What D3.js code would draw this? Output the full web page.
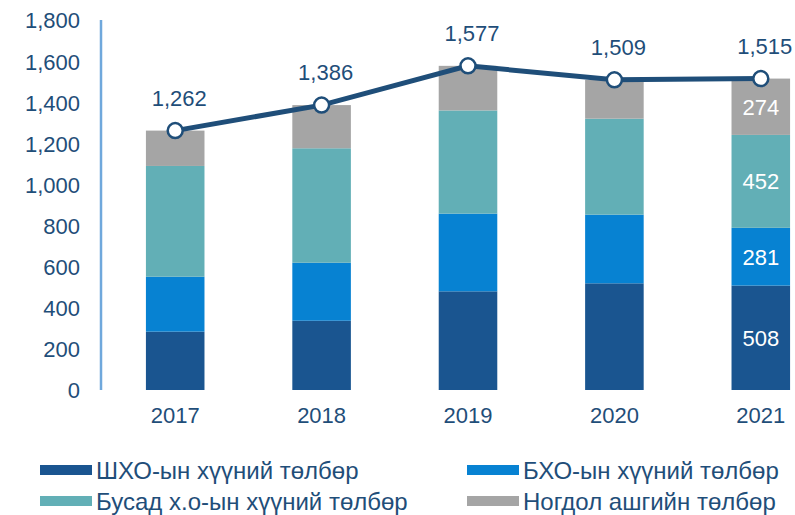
<!DOCTYPE html>
<html>
<head>
<meta charset="utf-8">
<script src="https://cdn.jsdelivr.net/npm/d3@7"></script>
<style>
  body { margin: 0; background: #fff; }
  svg { font-family: "Liberation Sans", Arial, sans-serif; }
</style>
</head>
<body>
<svg id="chart"></svg>
<script>
"use strict";

var years = ['2017', '2018', '2019', '2020', '2021'];
var shkho = [284, 337, 480, 519, 508];
var bkho = [267, 282, 378, 334, 281];
var busad = [539, 557, 502, 467, 452];
var nogdol = [172, 210, 217, 189, 274];
var totals = [1262, 1386, 1577, 1509, 1515];
var yTicks = [0, 200, 400, 600, 800, 1000, 1200, 1400, 1600, 1800];

var seriesNames = ['ШХО-ын хүүний төлбөр', 'БХО-ын хүүний төлбөр', 'Бусад х.о-ын хүүний төлбөр', 'Ногдол ашгийн төлбөр'];
var seriesKeys = ['shkho', 'bkho', 'busad', 'nogdol'];
var colors = ['#1a5590', '#0782d2', '#62afb6', '#a5a5a5'];
var textColor = '#1f4e79';

var width = 795, height = 515;
var svg = d3.select('#chart').attr('width', width).attr('height', height);

var rows = years.map(function(y, i) {
    return { year: y, shkho: shkho[i], bkho: bkho[i], busad: busad[i], nogdol: nogdol[i], total: totals[i] };
});

var x = d3.scaleBand().domain(years).range([102, 834]).paddingInner(0.6).paddingOuter(0.3);
var y = d3.scaleLinear().domain([0, 1800]).range([390, 20]);

// y axis labels
var yAxis = d3.axisLeft(y).tickValues(yTicks).tickSize(0).tickPadding(0).tickFormat(d3.format(','));
var yg = svg.append('g').attr('transform', 'translate(80,0)').call(yAxis);
yg.select('.domain').remove();
yg.selectAll('text').attr('fill', textColor).style('font-size', '22px').attr('dy', '0.36em');

svg.append('line')
    .attr('x1', 101).attr('x2', 101)
    .attr('y1', y(1800)).attr('y2', y(0))
    .attr('stroke', '#6fa8dc').attr('stroke-width', 2.5);

// x axis labels
var xAxis = d3.axisBottom(x).tickSize(0).tickPadding(0);
var xg = svg.append('g').attr('transform', 'translate(0,407)').call(xAxis);
xg.select('.domain').remove();
xg.selectAll('text').attr('fill', textColor).style('font-size', '22px').attr('dy', '0.71em');

// stacked bars
var stack = d3.stack().keys(seriesKeys)(rows);
var layers = svg.append('g').selectAll('g').data(stack).enter().append('g')
    .attr('fill', function(d, i) { return colors[i]; });

layers.selectAll('rect').data(function(d) { return d; }).enter().append('rect')
    .attr('x', function(d) { return x(d.data.year); })
    .attr('width', x.bandwidth())
    .attr('y', function(d) { return y(d[1]); })
    .attr('height', function(d) { return y(d[0]) - y(d[1]); });

// segment labels on the last bar
layers.selectAll('text').data(function(d) { return d.filter(function(p) { return p.data.year === '2021'; }); })
    .enter().append('text')
    .attr('x', function(d) { return x(d.data.year) + x.bandwidth() / 2; })
    .attr('y', function(d) { return (y(d[0]) + y(d[1])) / 2; })
    .attr('dy', '0.36em')
    .attr('text-anchor', 'middle')
    .attr('fill', '#fff')
    .style('font-size', '22px')
    .text(function(d) { return d[1] - d[0]; });

// total line
var cx = function(d) { return x(d.year) + x.bandwidth() / 2; };
var line = d3.line().x(cx).y(function(d) { return y(d.total); });

svg.append('path')
    .datum(rows)
    .attr('d', line)
    .attr('fill', 'none')
    .attr('stroke', '#1f4e79')
    .attr('stroke-width', 5);

svg.append('g').selectAll('circle').data(rows).enter().append('circle')
    .attr('cx', cx)
    .attr('cy', function(d) { return y(d.total); })
    .attr('r', 7.5)
    .attr('fill', '#fff')
    .attr('stroke', '#1f4e79')
    .attr('stroke-width', 2.5);

svg.append('g').selectAll('text').data(rows).enter().append('text')
    .attr('x', function(d) { return cx(d) + 4; })
    .attr('y', function(d) { return y(d.total) - 25; })
    .attr('text-anchor', 'middle')
    .attr('fill', textColor)
    .style('font-size', '22px')
    .text(function(d) { return d3.format(',')(d.total); });

// legend
var legendPos = [[40, 470], [467, 470], [40, 501], [467, 501]];
var legend = svg.append('g').selectAll('g').data(seriesNames).enter().append('g')
    .attr('transform', function(d, i) { return 'translate(' + legendPos[i][0] + ',' + legendPos[i][1] + ')'; });

legend.append('rect')
    .attr('x', 0).attr('y', -5)
    .attr('width', 52).attr('height', 10)
    .attr('fill', function(d, i) { return colors[i]; });

legend.append('text')
    .attr('x', 56)
    .attr('dy', '0.36em')
    .attr('fill', textColor)
    .style('font-size', '24px')
    .text(function(d) { return d; });
</script>
</body>
</html>
